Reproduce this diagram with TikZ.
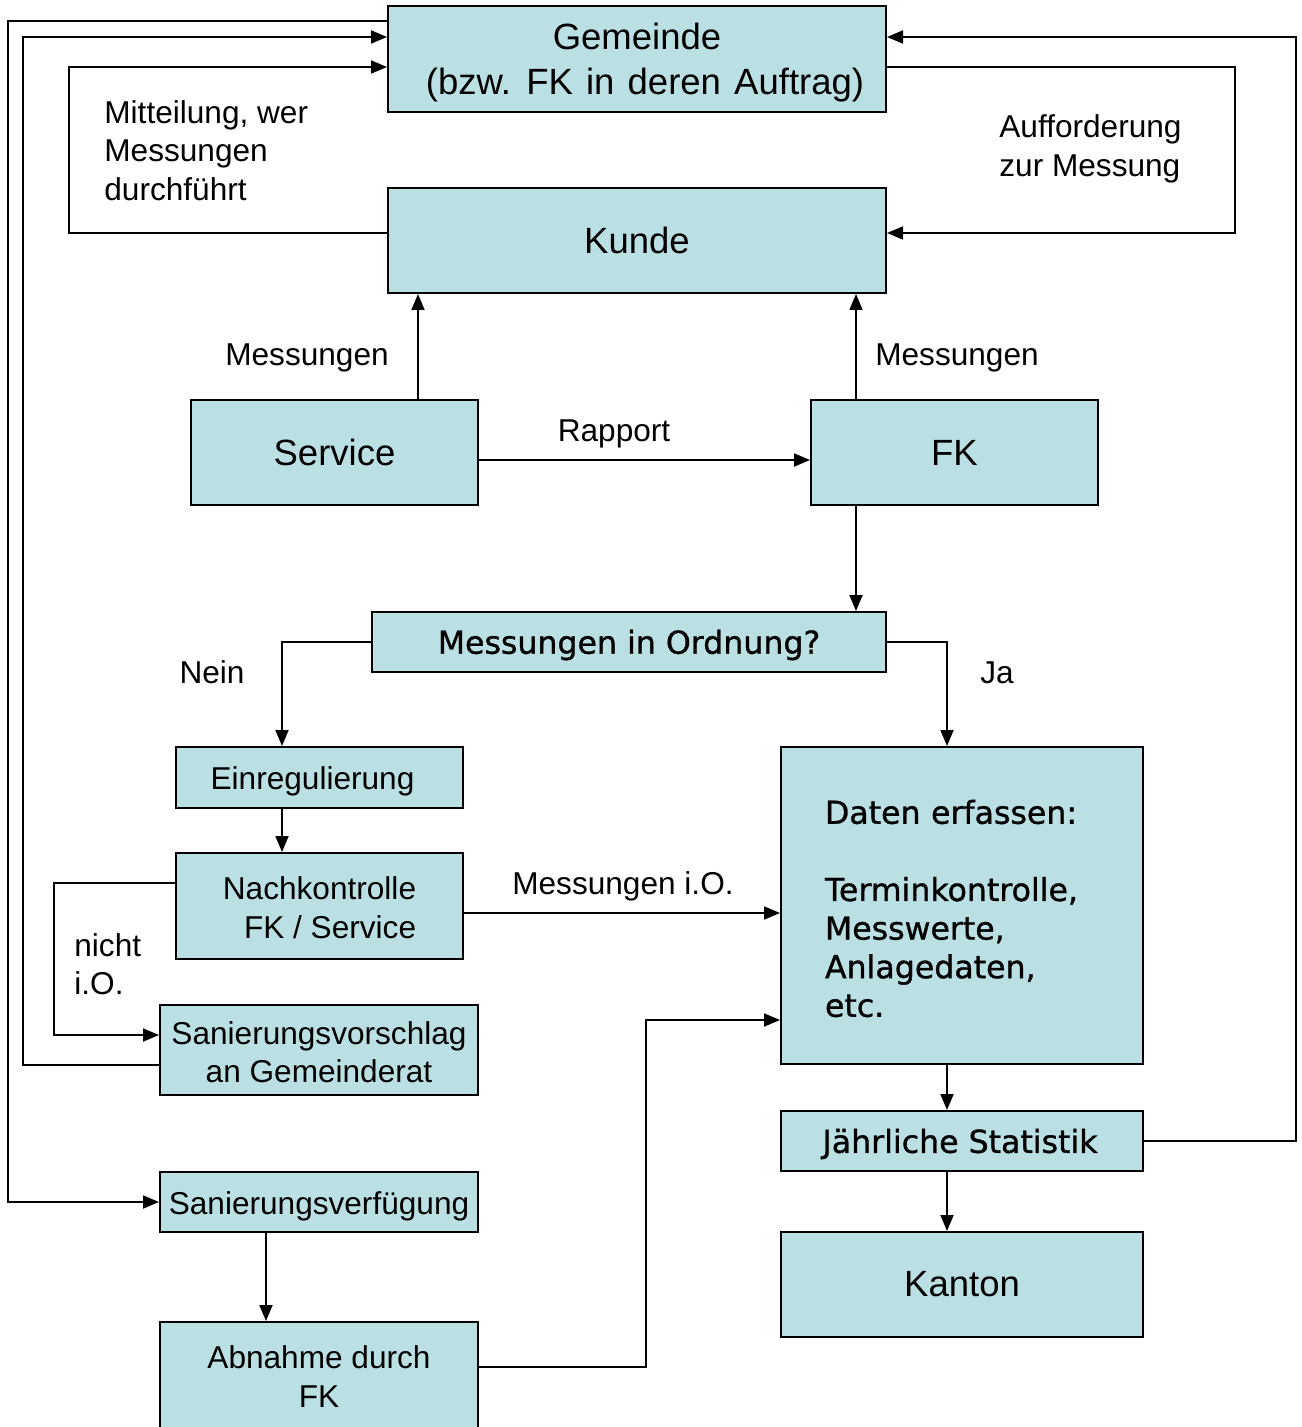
\documentclass[tikz,border=0pt]{standalone}
\usepackage{fontspec}
\setmainfont{Liberation Sans}
\newfontfamily\vfont[FakeBold=1]{DejaVu Sans}
\usetikzlibrary{arrows.meta}
\definecolor{boxfill}{HTML}{BBE0E3}
\newcommand\lowr[2]{\raisebox{-#1}[\height][\depth]{#2}}
\tikzset{
  box/.style={draw=black, line width=1pt, fill=boxfill, inner sep=0pt, font=\fontsize{18.25}{22.5}\selectfont, align=center},
  sbox/.style={box, font=\fontsize{15.8}{19.3}\selectfont},
  vbox/.style={box, font=\vfont\fontsize{15.8}{19.3}\selectfont},
  lbl/.style={inner sep=0pt, font=\fontsize{15.8}{19.3}\selectfont},
  arr/.style={draw=black, line width=0.9pt, -{Triangle[length=8pt,width=6.5pt]}}
}
\begin{document}
\begin{tikzpicture}[x=0.5pt,y=-0.5pt]
\useasboundingbox (0,0) rectangle (1301,1427);
\clip (0,0) rectangle (1301,1427);
% boxes
\node[box, minimum width=249pt, minimum height=53pt] (gem) at (637,59) {\lowr{2pt}{Gemeinde}\\\lowr{2pt}{\kern8pt\spaceskip=6.6pt\xspaceskip=7.6pt (bzw. FK in deren Auftrag)}};
\node[box, minimum width=249pt, minimum height=52.5pt] (kunde) at (637,240.5) {Kunde};
\node[box, minimum width=143.5pt, minimum height=52.5pt] (service) at (334.5,452.5) {Service};
\node[box, minimum width=143.5pt, minimum height=52.5pt] (fk) at (954.5,452.5) {FK};
\node[vbox, minimum width=257pt, minimum height=30pt] (mio) at (629,642) {\lowr{1.5pt}{Messungen in Ordnung?}};
\node[sbox, minimum width=143.5pt, minimum height=30.5pt] (ein) at (319.5,777.5) {\lowr{2pt}{\kern-7pt Einregulierung}};
\node[sbox, minimum width=143.5pt, minimum height=53pt, align=right] (nach) at (319.5,906) {\lowr{0.7pt}{Nachkontrolle}\\\lowr{0.7pt}{FK / Service}};
\node[sbox, minimum width=159pt, minimum height=45pt] (vors) at (319,1050) {\lowr{1pt}{Sanierungsvorschlag}\\\lowr{1pt}{an Gemeinderat}};
\node[sbox, minimum width=159pt, minimum height=30pt] (verf) at (319,1202) {\lowr{2pt}{Sanierungsverfügung}};
\node[sbox, minimum width=159pt, minimum height=53pt] (abn) at (319,1375) {\lowr{0.8pt}{Abnahme durch}\\\lowr{0.8pt}{FK}};
\node[vbox, minimum width=181pt, minimum height=158.5pt, inner xsep=22pt, text width=137pt, align=left] (daten) at (962,905.5) {\lowr{1.5pt}{Daten erfassen:}\\\mbox{}\\\lowr{1.5pt}{Terminkontrolle,}\\\lowr{1.5pt}{Messwerte,}\\\lowr{1.5pt}{Anlagedaten,}\\\lowr{1.5pt}{etc.}};
\node[vbox, minimum width=181pt, minimum height=30pt] (stat) at (962,1141) {\lowr{1.5pt}{\kern-2pt Jährliche Statistik}};
\node[box, minimum width=181pt, minimum height=52.5pt] (kanton) at (962,1284.5) {Kanton};
% labels
\node[lbl, anchor=west, align=left] (lmit) at (104,150.5) {Mitteilung, wer\\Messungen\\durchführt};
\node[lbl, anchor=west, align=left, font=\fontsize{15.8}{19.5}\selectfont] (lauf) at (999,148.5) {Aufforderung\\zur Messung};
\node[lbl] (lmess1) at (307,358) {Messungen};
\node[lbl] (lmess2) at (957,358) {Messungen};
\node[lbl] (lrap) at (614,434) {Rapport};
\node[lbl] (lnein) at (212,672) {Nein};
\node[lbl] (lja) at (997,673) {Ja};
\node[lbl] (lmio) at (623,886) {Messungen i.O.};
\node[lbl, anchor=west, align=left] (lnicht) at (74,964) {nicht\\i.O.};
% connectors
\draw[arr] ([yshift=19pt]gem.west) -- ++(-379,0) |- (verf.west);
\draw[arr] ([yshift=-7.5pt]vors.west) -- ++(-136,0) |- ([yshift=11pt]gem.west);
\draw[arr] ([yshift=3.75pt]kunde.west) -- ++(-318,0) |- ([yshift=-4pt]gem.west);
\draw[arr] ([yshift=-4pt]gem.east) -- ++(348,0) |- ([yshift=3.75pt]kunde.east);
\draw[arr] (stat.east) -- ++(152,0) |- ([yshift=11pt]gem.east);
\draw[arr] ([xshift=41.75pt]service.north) -- ([xshift=41.75pt]service.north |- kunde.south);
\draw[arr] ([xshift=-49.25pt]fk.north) -- ([xshift=-49.25pt]fk.north |- kunde.south);
\draw[arr] ([yshift=-3.75pt]service.east) -- ([yshift=-3.75pt]service.east -| fk.west);
\draw[arr] ([xshift=-49.25pt]fk.south) -- ([xshift=-49.25pt]fk.south |- mio.north);
\draw[arr] (mio.west) -| ([xshift=-18.75pt]ein.north);
\draw[arr] (mio.east) -| ([xshift=-7.5pt]daten.north);
\draw[arr] ([xshift=-18.75pt]ein.south) -- ([xshift=-18.75pt]nach.north);
\draw[arr] ([yshift=-3.5pt]nach.east) -- ([yshift=-3.5pt]nach.east -| daten.west);
\draw[arr] ([yshift=11.5pt]nach.west) -- ++(-121,0) |- ([yshift=7.5pt]vors.west);
\draw[arr] ([xshift=-26.5pt]verf.south) -- ([xshift=-26.5pt]abn.north);
\draw[arr] ([yshift=4pt]abn.east) -- ++(167,0) |- ([yshift=-57.25pt]daten.west);
\draw[arr] ([xshift=-7.5pt]daten.south) -- ([xshift=-7.5pt]stat.north);
\draw[arr] ([xshift=-7.5pt]stat.south) -- ([xshift=-7.5pt]kanton.north);
\end{tikzpicture}
\end{document}
